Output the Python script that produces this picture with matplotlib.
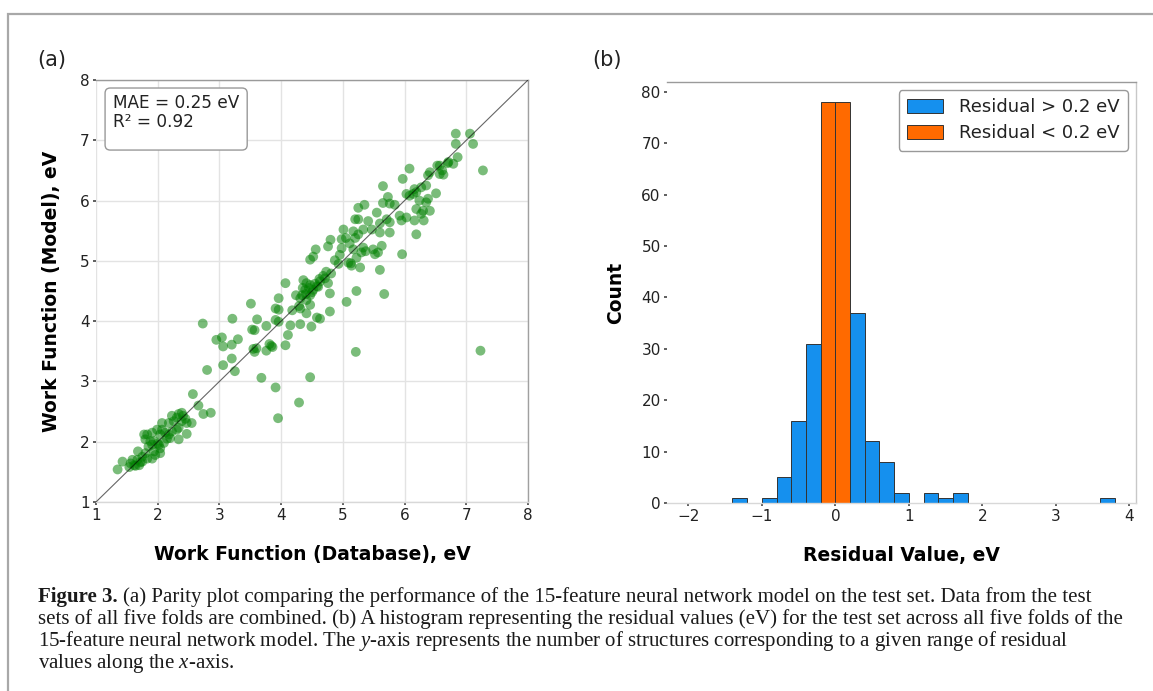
import numpy as np
import matplotlib
matplotlib.use("Agg")
import matplotlib.pyplot as plt
from matplotlib.patches import FancyBboxPatch, Rectangle, Patch

# ---------------- data ----------------
wf_database = [
    2.57, 2.80, 2.66, 2.74, 2.86, 2.39, 2.41, 2.34, 2.31, 2.26, 2.55, 2.47, 2.39, 2.18, 2.07, 2.23,
    2.34, 2.31, 2.47, 2.34, 2.20, 2.12, 2.04, 1.99, 1.91, 1.83, 1.78, 1.80, 1.88, 1.94, 1.91, 2.02,
    2.04, 1.94, 2.04, 1.96, 1.91, 1.80, 1.68, 1.75, 1.83, 1.67, 1.59, 1.56, 1.62, 1.70, 1.75, 1.43,
    1.35, 1.54, 1.64, 1.85, 2.10, 2.18, 2.23, 2.07, 2.00, 1.72, 2.15, 2.45,
    2.73, 3.21, 3.51, 3.61, 3.53, 3.57, 3.76, 2.95, 3.04, 3.06, 3.20, 3.30, 3.55, 3.60, 3.57, 3.76,
    3.81, 3.84, 3.20, 3.06, 3.25, 3.68,
    4.80, 4.76, 4.56, 4.52, 4.47, 4.95, 4.87, 4.73, 4.81, 4.71, 4.63, 4.76, 4.60, 4.52, 4.79, 4.36,
    4.41, 4.47, 4.39, 4.34, 4.47, 4.41, 4.47, 4.31, 4.24, 4.07, 3.96, 3.91, 3.96, 4.18, 4.31, 4.41,
    4.79, 4.63, 4.49, 4.31, 4.15, 3.91, 3.96, 4.11, 4.07, 3.86, 4.29, 4.58, 4.45, 4.55, 4.50, 4.62,
    4.40, 4.58, 4.68, 4.35, 4.98, 4.98, 4.93,
    5.65, 5.73, 5.65, 5.76, 5.84, 5.35, 5.25, 5.55, 5.20, 5.25, 5.41, 5.71, 5.76, 5.60, 5.33, 5.47,
    5.17, 5.01, 5.05, 5.25, 5.60, 5.76, 5.20, 5.17, 5.33, 5.49, 5.63, 5.30, 5.52, 5.57, 5.22, 5.09,
    5.14, 5.28, 5.60, 5.11, 5.37, 5.13,
    6.83, 7.06, 6.83, 7.11, 7.27, 6.86, 6.79, 6.71, 6.57, 6.61, 6.63, 6.57, 6.41, 6.38, 6.08, 5.97,
    6.35, 6.27, 6.16, 6.19, 6.03, 6.08, 6.14, 6.51, 6.38, 6.35, 6.24, 6.19, 6.30, 6.41, 6.27, 5.92,
    6.03, 6.31, 6.16, 5.95, 6.19, 5.96, 6.53, 6.70,
    7.23, 5.21, 4.47, 3.91, 4.29, 3.95, 5.67, 5.22, 5.06,
]
wf_model = [
    2.79, 3.19, 2.60, 2.46, 2.48, 2.48, 2.43, 2.46, 2.40, 2.34, 2.31, 2.31, 2.34, 2.31, 2.31, 2.43,
    2.23, 2.20, 2.13, 2.04, 2.06, 2.15, 2.12, 2.20, 2.15, 2.12, 2.12, 2.04, 2.01, 2.01, 1.95, 1.95,
    1.89, 1.84, 1.81, 1.78, 1.72, 1.81, 1.84, 1.75, 1.72, 1.70, 1.70, 1.64, 1.61, 1.61, 1.67, 1.67,
    1.54, 1.58, 1.60, 1.92, 1.98, 2.12, 2.17, 2.20, 1.97, 1.66, 2.05, 2.38,
    3.96, 4.04, 4.29, 4.03, 3.86, 3.85, 3.92, 3.69, 3.73, 3.58, 3.61, 3.70, 3.54, 3.55, 3.49, 3.51,
    3.62, 3.59, 3.38, 3.27, 3.17, 3.06,
    5.35, 5.24, 5.19, 5.07, 5.02, 5.10, 5.01, 4.82, 4.79, 4.71, 4.66, 4.63, 4.57, 4.52, 4.46, 4.68,
    4.63, 4.60, 4.52, 4.43, 4.43, 4.35, 4.27, 4.38, 4.43, 4.63, 4.38, 4.21, 4.19, 4.18, 4.21, 4.13,
    4.16, 4.04, 3.91, 3.95, 3.93, 4.02, 3.99, 3.77, 3.60, 3.57, 4.25, 4.06, 4.55, 4.62, 4.48, 4.70,
    4.45, 4.58, 4.75, 4.55, 5.36, 5.21, 4.95,
    6.24, 6.06, 5.96, 5.95, 5.93, 5.93, 5.88, 5.80, 5.69, 5.69, 5.66, 5.69, 5.64, 5.62, 5.52, 5.52,
    5.49, 5.52, 5.38, 5.44, 5.47, 5.47, 5.38, 5.19, 5.22, 5.19, 5.25, 5.14, 5.11, 5.14, 5.05, 4.97,
    4.92, 4.89, 4.85, 5.29, 5.16, 4.96,
    7.11, 7.11, 6.94, 6.94, 6.50, 6.72, 6.61, 6.64, 6.58, 6.50, 6.43, 6.44, 6.47, 6.42, 6.53, 6.36,
    6.25, 6.22, 6.19, 6.14, 6.11, 6.08, 6.11, 6.12, 6.03, 5.97, 6.00, 5.86, 5.83, 5.83, 5.78, 5.75,
    5.72, 5.67, 5.67, 5.67, 5.44, 5.11, 6.58, 6.62,
    3.51, 3.49, 3.07, 2.90, 2.65, 2.39, 4.45, 4.50, 4.32,
]

mae_text = "MAE = 0.25 eV"
r2_text = "R\u00b2 = 0.92"

bin_edges = np.round(np.arange(-2.0, 3.81, 0.2), 1)
counts = [0, 0, 0, 1, 0, 1, 5, 16, 31, 78, 78, 37, 12, 8, 2, 0, 2, 1, 2,
          0, 0, 0, 0, 0, 0, 0, 0, 0, 1]
threshold = 0.2
label_hi = "Residual > 0.2 eV"
label_lo = "Residual < 0.2 eV"

caption_head = "Figure 3."
caption_lines = [
    "(a) Parity plot comparing the performance of the 15-feature neural network model on the test set. Data from the test",
    "sets of all five folds are combined. (b) A histogram representing the residual values (eV) for the test set across all five folds of the",
    r"15-feature neural network model. The $\mathit{y}$-axis represents the number of structures corresponding to a given range of residual",
    r"values along the $\mathit{x}$-axis.",
]

# ---------------- style ----------------
plt.rcParams["font.family"] = ["DejaVu Sans"]
plt.rcParams["mathtext.fontset"] = "custom"
plt.rcParams["mathtext.rm"] = "Liberation Serif"
plt.rcParams["mathtext.it"] = "Liberation Serif:italic"
plt.rcParams["mathtext.bf"] = "Liberation Serif:bold"

W, H = 1153, 691
fig = plt.figure(figsize=(W / 100, H / 100), dpi=100)
fig.patch.set_facecolor("white")

# outer frame
fig.add_artist(Rectangle((8 / W, -0.05), 1.2, 1 - 14 / H + 0.05, transform=fig.transFigure,
                         fill=False, edgecolor="#a8a8a8", lw=1.6))

def px_axes(l, t, r, b):
    return fig.add_axes([l / W, 1 - b / H, (r - l) / W, (b - t) / H])

tick_kw = dict(length=2.5, width=1.2, color="#444444", labelsize=11, labelcolor="#222222", pad=2)

# ---------------- panel (a) ----------------
ax = px_axes(96, 80, 528, 502)
ax.set_xlim(1, 8)
ax.set_ylim(1, 8)
ax.set_xticks(range(1, 9))
ax.set_yticks(range(1, 9))
ax.grid(True, color="#e3e3e3", lw=1.0)
ax.set_axisbelow(True)
ax.scatter(wf_database, wf_model, s=50, color="green", alpha=0.52, edgecolors="none", zorder=2)
ax.plot([1, 8], [1, 8], color="black", lw=0.8, alpha=0.6, zorder=3)
ax.tick_params(**tick_kw)
ax.spines["left"].set_visible(False)
ax.spines["bottom"].set_color("#d8d8d8")
ax.spines["top"].set_color("#9a9a9a")
ax.spines["right"].set_color("#a0a0a0")
for s in ax.spines.values():
    s.set_linewidth(1.0)
ax.set_xlabel("Work Function (Database), eV", fontsize=13.5, fontweight="bold", labelpad=16)
ax.set_ylabel("Work Function (Model), eV", fontsize=13.5, fontweight="bold", labelpad=14)

box = FancyBboxPatch((0.021, 0.834), 0.329, 0.147, boxstyle="round,pad=0,rounding_size=0.012",
                     transform=ax.transAxes, facecolor="white", edgecolor="#999999", lw=1.0, zorder=5,
                     mutation_aspect=432 / 422)
ax.add_patch(box)
ax.text(0.039, 0.966, mae_text + "\n" + r2_text, transform=ax.transAxes, va="top", ha="left",
        fontsize=12.2, color="#222222", linespacing=1.05, zorder=6)

fig.text(52 / W, 1 - 60 / H, "(a)", fontsize=15, ha="center", va="center", color="#222222")

# ---------------- panel (b) ----------------
bx = px_axes(667, 82, 1136, 503)
lefts = bin_edges[:-1]
widths = np.diff(bin_edges)
centers = lefts + widths / 2
is_lo = np.abs(centers) < threshold
cols = np.where(is_lo, "#ff6a00", "#1590ee")
bx.bar(lefts, counts, width=widths, align="edge", color=cols, edgecolor="#333333", linewidth=0.7)
bx.set_ylim(0, max(counts) * 1.05)
bx.set_xticks(range(-2, 5))
bx.set_xticklabels([("\u2212" + str(-v)) if v < 0 else str(v) for v in range(-2, 5)])
bx.set_yticks(range(0, 81, 10))
bx.tick_params(**tick_kw)
bx.spines["left"].set_visible(False)
bx.spines["bottom"].set_color("#d8d8d8")
bx.spines["top"].set_color("#9a9a9a")
bx.spines["right"].set_color("#c8c8c8")
for s in bx.spines.values():
    s.set_linewidth(1.0)
bx.set_xlabel("Residual Value, eV", fontsize=13.5, fontweight="bold", labelpad=16)
bx.set_ylabel("Count", fontsize=13.5, fontweight="bold", labelpad=12)

handles = [Patch(facecolor="#1590ee", edgecolor="#333333", lw=0.7, label=label_hi),
           Patch(facecolor="#ff6a00", edgecolor="#333333", lw=0.7, label=label_lo)]
leg = bx.legend(handles=handles, loc="upper right", fontsize=13, frameon=True, fancybox=True,
                edgecolor="#999999", framealpha=1, handlelength=2.0, handleheight=0.8,
                handletextpad=0.9, borderpad=0.45, labelspacing=0.45, borderaxespad=0.45)
leg.get_frame().set_linewidth(1.0)
for t in leg.get_texts():
    t.set_color("#222222")

fig.text(607 / W, 1 - 60 / H, "(b)", fontsize=15, ha="center", va="center", color="#222222")

# ---------------- caption ----------------
cap_size = 15
x0 = 38 / W
y0 = 602
head = fig.text(x0, 1 - y0 / H, caption_head, fontsize=cap_size, family="Liberation Serif",
                fontweight="bold", ha="left", va="baseline", color="#1a1a1a")
renderer = fig.canvas.get_renderer()
hb = head.get_window_extent(renderer=renderer)
space_px = cap_size * 100 / 72 * 0.25
fig.text((hb.x1 + space_px) / W, 1 - y0 / H, caption_lines[0], fontsize=cap_size,
         family="Liberation Serif", ha="left", va="baseline", color="#1a1a1a")
for i, line in enumerate(caption_lines[1:], start=1):
    fig.text(x0, 1 - (y0 + 22 * i) / H, line, fontsize=cap_size, family="Liberation Serif",
             ha="left", va="baseline", color="#1a1a1a")

fig.savefig("out.png", dpi=100, facecolor="white")
